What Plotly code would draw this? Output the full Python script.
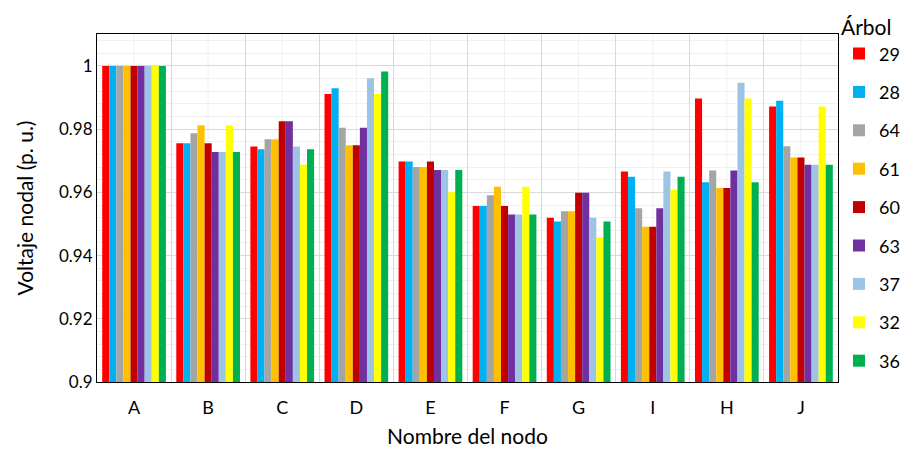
import plotly.graph_objects as go

categories = ["A", "B", "C", "D", "E", "F", "G", "I", "H", "J"]
series_names = ["29", "28", "64", "61", "60", "63", "37", "32", "36"]
colors = ["#FF0000", "#00B0F0", "#A5A5A5", "#FFC000", "#C00000", "#7030A0", "#9DC3E6", "#FFFF00", "#00B050"]

s29 = [1.0, 0.9755, 0.9745, 0.9911, 0.9698, 0.9557, 0.9520, 0.9666, 0.9897, 0.9872]
s28 = [1.0, 0.9755, 0.9736, 0.9929, 0.9698, 0.9557, 0.9508, 0.9649, 0.9632, 0.9890]
s64 = [1.0, 0.9787, 0.9768, 0.9804, 0.9680, 0.9591, 0.9540, 0.9550, 0.9669, 0.9746]
s61 = [1.0, 0.9812, 0.9768, 0.9749, 0.9680, 0.9618, 0.9540, 0.9491, 0.9614, 0.9710]
s60 = [1.0, 0.9755, 0.9825, 0.9749, 0.9698, 0.9557, 0.9599, 0.9491, 0.9614, 0.9710]
s63 = [1.0, 0.9728, 0.9825, 0.9804, 0.9671, 0.9530, 0.9599, 0.9550, 0.9669, 0.9687]
s37 = [1.0, 0.9728, 0.9745, 0.9961, 0.9671, 0.9530, 0.9520, 0.9666, 0.9947, 0.9687]
s32 = [1.0, 0.9812, 0.9687, 0.9911, 0.9600, 0.9618, 0.9458, 0.9608, 0.9897, 0.9872]
s36 = [1.0, 0.9728, 0.9736, 0.9982, 0.9671, 0.9530, 0.9508, 0.9649, 0.9632, 0.9687]

all_series = [s29, s28, s64, s61, s60, s63, s37, s32, s36]

y_ticks = [0.9, 0.92, 0.94, 0.96, 0.98, 1.0]
y_tick_text = ["0.9", "0.92", "0.94", "0.96", "0.98", "1"]

FONT = "Lato, Calibri, Carlito, sans-serif"

fig = go.Figure()
for i, (name, vals, col) in enumerate(zip(series_names, all_series, colors)):
    fig.add_trace(go.Bar(
        x=categories, y=vals, name=name, marker_color=col,
        marker_line_width=0, legendgroup=name,
    ))

# light vertical lines at category centres (minor grid)
for c in categories:
    fig.add_shape(type="line", xref="x", yref="paper", x0=c, x1=c, y0=0, y1=1,
                  line=dict(color="#EFEFEF", width=1), layer="below")

fig.update_layout(
    width=895, height=440,
    paper_bgcolor="white", plot_bgcolor="white",
    barmode="group", bargap=0.14, bargroupgap=0,
    margin=dict(l=89, r=65, t=26, b=66, autoexpand=False),
    font=dict(family=FONT, size=17, color="#000000"),
    legend=dict(
        title=dict(text="Árbol", font=dict(size=21), side="top"),
        xref="container", yref="container",
        x=0.9285, xanchor="left", y=1.0, yanchor="top",
        font=dict(size=18), tracegroupgap=12,
        maxheight=438, itemwidth=30,
        bgcolor="rgba(0,0,0,0)",
    ),
)
fig.update_xaxes(
    type="category", tickson="boundaries", automargin=False,
    showgrid=True, gridcolor="#D9D9D9", gridwidth=1,
    showline=True, linecolor="#000000", linewidth=1, mirror=True,
    ticks="", tickfont=dict(size=18), ticklabelstandoff=9,
    title=dict(text="Nombre del nodo", font=dict(size=21), standoff=13),
)
fig.update_yaxes(
    range=[0.9, 1.0101], tickvals=y_ticks, ticktext=y_tick_text, automargin=False,
    showgrid=True, gridcolor="#D9D9D9", gridwidth=1,
    minor=dict(dtick=0.004, tick0=0.9, showgrid=True, gridcolor="#F0F0F0", gridwidth=1),
    showline=True, linecolor="#000000", linewidth=1, mirror=True,
    ticks="", tickfont=dict(size=17), zeroline=False,
    title=dict(text="Voltaje nodal (p. u.)", font=dict(size=21), standoff=19),
)

fig.write_html("out.html")
